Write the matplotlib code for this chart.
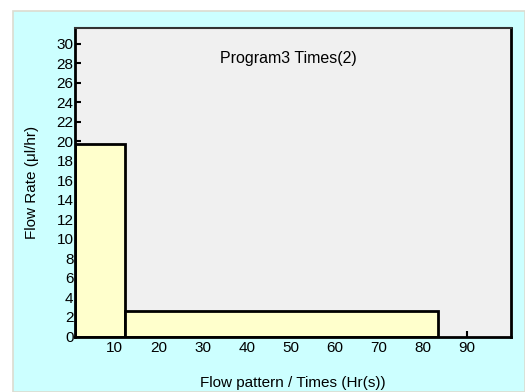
import matplotlib
matplotlib.use('Agg')
import matplotlib.pyplot as plt
from matplotlib.patches import Rectangle

# datos
bordes_x = [1, 12.3, 83.5]      # inicio / fin de cada tramo (Hr)
caudales = [19.7, 2.6]          # ul/hr en cada tramo
ticks_x = [10, 20, 30, 40, 50, 60, 70, 80, 90]
ticks_y = list(range(0, 31, 2))

titulo = 'Program3 Times(2)'
etiqueta_x = 'Flow pattern / Times (Hr(s))'
etiqueta_y = 'Flow Rate (\u03bcl/hr)'

plt.rcParams['font.family'] = ['Liberation Sans Narrow', 'Liberation Sans', 'DejaVu Sans']

W, H = 525, 392
fig = plt.figure(figsize=(W / 100, H / 100), dpi=100, facecolor='white')

# fondo cian del panel
fig.add_artist(Rectangle((13 / W, 0), 1 - 13 / W, 1 - 11 / H, transform=fig.transFigure,
                         facecolor='#ccffff', edgecolor='#dcdcd0', linewidth=1.2, zorder=-10))

ax = fig.add_axes([75 / W, 1 - 336.5 / H, (511 - 75) / W, (336.5 - 28) / H])
ax.set_zorder(5)
ax.set_facecolor('#f0f0f0')

anchos = [bordes_x[i + 1] - bordes_x[i] for i in range(len(caudales))]
ax.bar(bordes_x[:-1], caudales, width=anchos, align='edge',
       color='#ffffcc', edgecolor='black', linewidth=2, zorder=2)

ax.set_xlim(1, 100)
ax.set_ylim(0, 31.6)
ax.set_xticks(ticks_x)
ax.set_yticks(ticks_y)
ax.tick_params(direction='in', length=4, width=1.5, labelsize=11, pad=3, colors='black')
ax.tick_params(axis='y', pad=1)

for lado in ['left', 'bottom', 'right']:
    ax.spines[lado].set_linewidth(2)
ax.spines['top'].set_linewidth(1.5)
ax.spines['top'].set_color('#333333')

ax.text(0.49, 0.90, titulo, transform=ax.transAxes, ha='center', va='center', fontsize=11.5)
ax.set_xlabel(etiqueta_x, fontsize=11, labelpad=15)
ax.set_ylabel(etiqueta_y, fontsize=11, labelpad=13)

plt.savefig('out.png', dpi=100, facecolor=fig.get_facecolor())
